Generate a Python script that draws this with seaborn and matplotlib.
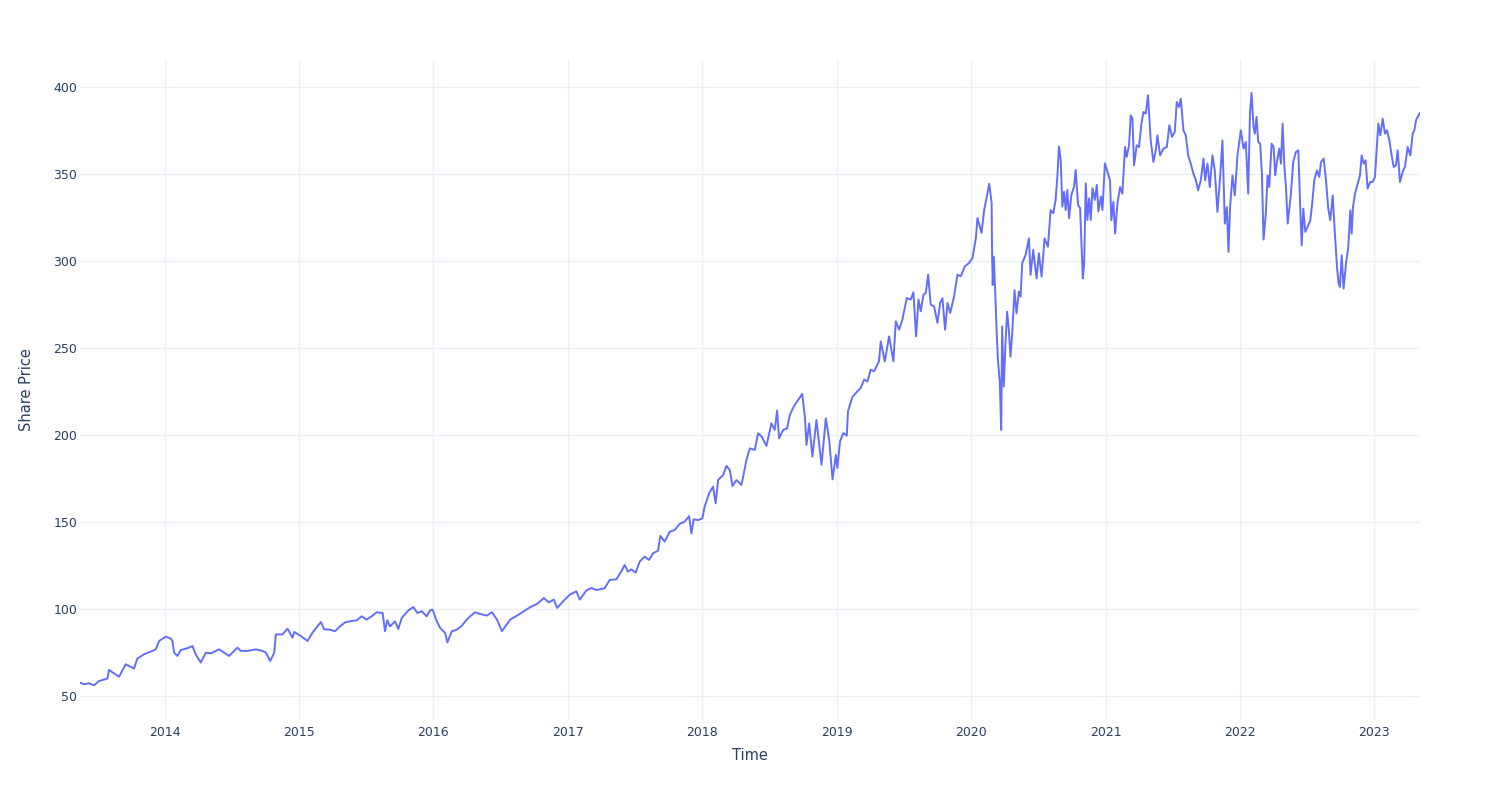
import numpy as np
import pandas as pd
import matplotlib
matplotlib.use("Agg")
import matplotlib.pyplot as plt
import seaborn as sns

# ---- data (decimal year, share price) ----
yr_2013_2015 = [2013.369, 2013.399, 2013.436, 2013.473, 2013.511, 2013.573, 2013.585, 2013.622,
                2013.660, 2013.709, 2013.759, 2013.771, 2013.796, 2013.846, 2013.908, 2013.933,
                2013.958, 2014.007, 2014.045, 2014.057, 2014.070, 2014.094, 2014.119, 2014.181,
                2014.206, 2014.231, 2014.268, 2014.306, 2014.343, 2014.405, 2014.442, 2014.479,
                2014.541, 2014.566, 2014.616, 2014.678, 2014.728, 2014.753, 2014.785, 2014.815,
                2014.827, 2014.877, 2014.914, 2014.951, 2014.964, 2015.013, 2015.063, 2015.100,
                2015.162, 2015.187, 2015.230]
px_2013_2015 = [57.7, 56.7, 57.3, 56.1, 58.6, 60.0, 65.0, 63.0,
                61.1, 68.2, 66.3, 65.7, 71.5, 74.0, 75.9, 76.8,
                81.6, 84.1, 83.0, 81.6, 74.9, 73.0, 76.4, 77.8,
                78.7, 73.9, 69.2, 74.9, 74.5, 76.8, 74.9, 73.0,
                77.8, 75.9, 75.9, 76.8, 75.9, 74.9, 70.1, 74.9,
                85.4, 85.4, 88.7, 83.5, 86.8, 84.5, 81.6, 86.4,
                92.5, 88.3, 88.1]

yr_2015_2017 = [2015.267, 2015.305, 2015.342, 2015.379, 2015.429, 2015.466, 2015.503, 2015.540,
                2015.578, 2015.622, 2015.640, 2015.657, 2015.677, 2015.714, 2015.739, 2015.764,
                2015.814, 2015.851, 2015.881, 2015.913, 2015.950, 2015.975, 2015.995, 2016.020,
                2016.050, 2016.087, 2016.104, 2016.137, 2016.174, 2016.211, 2016.248, 2016.273,
                2016.310, 2016.348, 2016.397, 2016.435, 2016.472, 2016.509, 2016.534, 2016.571,
                2016.621, 2016.671, 2016.720, 2016.770, 2016.820, 2016.857, 2016.894, 2016.919,
                2016.963, 2017.012, 2017.062, 2017.087, 2017.137, 2017.174]
px_2015_2017 = [87.2, 90.0, 92.3, 92.9, 93.5, 95.8, 93.9, 95.8,
                98.1, 97.7, 87.2, 93.5, 90.0, 92.9, 88.5, 94.8,
                99.2, 101.1, 97.7, 98.7, 95.8, 99.2, 99.6, 93.9,
                89.1, 86.2, 80.8, 87.2, 88.1, 90.4, 93.9, 95.8,
                98.1, 97.1, 96.2, 98.1, 93.9, 87.2, 90.0, 93.9,
                96.2, 98.7, 101.1, 102.9, 106.3, 103.8, 105.4, 100.6,
                104.4, 108.2, 110.2, 105.4, 110.7, 112.1]

yr_2017_2019 = [2017.210, 2017.272, 2017.310, 2017.359, 2017.396, 2017.421, 2017.446, 2017.471,
                2017.503, 2017.533, 2017.570, 2017.603, 2017.632, 2017.670, 2017.687, 2017.719,
                2017.757, 2017.794, 2017.831, 2017.868, 2017.901, 2017.918, 2017.935, 2017.968,
                2018.000, 2018.017, 2018.050, 2018.079, 2018.099, 2018.117, 2018.154, 2018.179,
                2018.204, 2018.224, 2018.253, 2018.291, 2018.308, 2018.328, 2018.353, 2018.390,
                2018.415, 2018.442, 2018.477, 2018.514, 2018.539, 2018.556, 2018.571, 2018.601,
                2018.631, 2018.651, 2018.680, 2018.713, 2018.743, 2018.763, 2018.775, 2018.795,
                2018.819, 2018.849, 2018.887, 2018.919, 2018.944, 2018.969, 2018.994]
px_2017_2019 = [110.9, 111.9, 116.7, 117.0, 121.5, 125.3, 121.5, 122.8,
                120.9, 127.2, 130.1, 128.2, 132.0, 133.5, 142.0, 138.7,
                144.4, 145.4, 148.9, 150.2, 153.4, 143.5, 151.5, 151.1,
                152.1, 158.8, 166.5, 170.3, 160.7, 174.1, 177.0, 182.2,
                179.9, 170.7, 174.1, 171.3, 178.0, 185.6, 192.3, 191.4,
                201.0, 199.0, 193.7, 206.7, 202.9, 214.0, 198.1, 202.9,
                203.8, 211.5, 216.3, 220.1, 223.6, 210.5, 194.3, 206.7,
                187.5, 208.6, 182.8, 209.6, 197.1, 174.5, 188.5]

yr_2019_2020 = [2019.005, 2019.025, 2019.050, 2019.075, 2019.084, 2019.117, 2019.154, 2019.179,
                2019.204, 2019.229, 2019.253, 2019.278, 2019.315, 2019.328, 2019.358, 2019.390,
                2019.422, 2019.440, 2019.465, 2019.489, 2019.522, 2019.551, 2019.571, 2019.591,
                2019.609, 2019.626, 2019.646, 2019.663, 2019.681, 2019.700, 2019.725, 2019.750,
                2019.770, 2019.787, 2019.807, 2019.825, 2019.845, 2019.874, 2019.899, 2019.924,
                2019.954, 2019.986, 2020.011, 2020.036, 2020.048, 2020.078, 2020.098, 2020.118,
                2020.135, 2020.153]
px_2019_2020 = [181.0, 196.4, 201.1, 199.6, 213.6, 221.8, 225.1, 227.0,
                231.8, 230.8, 237.5, 236.6, 242.3, 253.8, 242.3, 256.7,
                242.3, 265.3, 260.5, 266.3, 278.7, 277.8, 282.0, 256.7,
                277.8, 271.1, 280.7, 281.6, 292.1, 274.9, 273.9, 264.4,
                275.9, 278.7, 260.5, 275.9, 270.1, 279.7, 292.1, 291.2,
                296.9, 298.9, 301.7, 313.2, 324.7, 316.1, 329.5, 337.2,
                344.4, 333.3]

yr_2020_2021 = [2020.156, 2020.161, 2020.169, 2020.181, 2020.189, 2020.199, 2020.214, 2020.224,
                2020.231, 2020.243, 2020.256, 2020.268, 2020.281, 2020.293, 2020.306, 2020.323,
                2020.338, 2020.355, 2020.368, 2020.380, 2020.405, 2020.430, 2020.442, 2020.462,
                2020.487, 2020.504, 2020.524, 2020.546, 2020.571, 2020.591, 2020.611, 2020.628,
                2020.641, 2020.653, 2020.666, 2020.678, 2020.691, 2020.703, 2020.715, 2020.728,
                2020.745, 2020.765, 2020.777, 2020.795, 2020.810, 2020.820, 2020.830, 2020.840,
                2020.852, 2020.864, 2020.877, 2020.889, 2020.902, 2020.919, 2020.934, 2020.946,
                2020.964, 2020.976, 2020.994, 2021.013]
px_2020_2021 = [306.3, 286.2, 302.5, 279.5, 262.3, 244.1, 229.7, 202.9,
                262.3, 227.8, 252.7, 270.9, 260.3, 245.0, 258.4, 283.3,
                269.9, 282.4, 279.5, 298.7, 303.4, 313.0, 292.0, 306.3,
                290.0, 304.4, 291.0, 313.0, 308.2, 329.3, 327.4, 335.1,
                348.5, 365.7, 358.0, 331.2, 339.8, 329.3, 340.8, 324.5,
                337.9, 342.7, 352.3, 332.2, 330.3, 310.2, 290.0, 298.7,
                344.6, 323.6, 336.0, 323.6, 341.8, 335.1, 343.7, 328.4,
                337.0, 329.3, 356.1, 351.3]

yr_2021_2022 = [2021.032, 2021.042, 2021.057, 2021.070, 2021.087, 2021.107, 2021.124, 2021.144,
                2021.156, 2021.174, 2021.186, 2021.199, 2021.211, 2021.231, 2021.248, 2021.266,
                2021.281, 2021.298, 2021.315, 2021.335, 2021.355, 2021.373, 2021.385, 2021.405,
                2021.430, 2021.455, 2021.474, 2021.494, 2021.514, 2021.529, 2021.546, 2021.559,
                2021.579, 2021.596, 2021.614, 2021.633, 2021.653, 2021.671, 2021.688, 2021.708,
                2021.728, 2021.740, 2021.758, 2021.775, 2021.795, 2021.812, 2021.832, 2021.852,
                2021.869, 2021.887, 2021.902, 2021.914, 2021.926, 2021.944, 2021.961, 2021.981]
px_2021_2022 = [346.4, 323.4, 333.9, 315.7, 332.9, 342.5, 338.7, 365.5,
                359.8, 366.5, 383.7, 381.8, 355.0, 366.5, 365.5, 378.9,
                385.6, 384.7, 395.2, 369.3, 356.9, 363.6, 372.2, 360.7,
                364.6, 365.5, 378.0, 371.3, 374.1, 391.4, 388.5, 393.3,
                375.1, 372.2, 360.7, 356.0, 350.2, 346.4, 340.6, 346.4,
                358.8, 346.4, 356.0, 342.5, 360.7, 352.1, 328.2, 348.3,
                369.3, 321.5, 331.0, 305.2, 331.0, 349.2, 337.7, 360.7]

yr_2022_2023 = [2022.006, 2022.026, 2022.043, 2022.061, 2022.074, 2022.086, 2022.101, 2022.111,
                2022.123, 2022.136, 2022.150, 2022.163, 2022.175, 2022.193, 2022.205, 2022.218,
                2022.235, 2022.250, 2022.262, 2022.275, 2022.292, 2022.305, 2022.317, 2022.330,
                2022.342, 2022.355, 2022.367, 2022.379, 2022.396, 2022.416, 2022.434, 2022.449,
                2022.459, 2022.471, 2022.486, 2022.503, 2022.523, 2022.536, 2022.553, 2022.573,
                2022.590, 2022.603, 2022.623, 2022.640, 2022.657, 2022.672, 2022.690, 2022.707,
                2022.722, 2022.734, 2022.744, 2022.757, 2022.771, 2022.789, 2022.806, 2022.821,
                2022.831, 2022.841, 2022.856, 2022.876, 2022.893, 2022.906, 2022.921, 2022.935,
                2022.950, 2022.970, 2022.988, 2023.005, 2023.020, 2023.030, 2023.045, 2023.062,
                2023.079, 2023.094, 2023.112, 2023.129, 2023.144, 2023.161, 2023.174, 2023.191,
                2023.211, 2023.229, 2023.248, 2023.268, 2023.286, 2023.298, 2023.310, 2023.323,
                2023.340]
px_2022_2023 = [375.1, 364.6, 368.4, 338.7, 384.7, 396.6, 377.0, 373.2,
                382.8, 368.4, 367.4, 350.2, 312.3, 328.2, 349.2, 342.5,
                367.4, 365.5, 349.2, 356.9, 364.6, 355.9, 378.9, 355.0,
                342.5, 321.5, 330.1, 338.7, 356.9, 362.6, 363.6, 329.1,
                309.0, 330.1, 316.7, 319.5, 323.4, 332.0, 346.4, 352.1,
                348.3, 356.9, 358.8, 346.4, 330.1, 323.4, 337.7, 314.8,
                296.6, 287.0, 285.1, 303.3, 284.1, 298.5, 308.0, 329.1,
                315.7, 331.0, 338.7, 344.4, 349.2, 360.7, 355.9, 357.9,
                341.6, 345.4, 345.4, 348.3, 367.4, 378.9, 372.2, 381.8,
                373.2, 375.1, 369.3, 360.7, 354.0, 355.0, 363.6, 345.4,
                351.1, 354.4, 365.5, 360.7, 373.2, 375.1, 380.8, 382.8,
                385.1]

tick_years = [2014, 2015, 2016, 2017, 2018, 2019, 2020, 2021, 2022, 2023]
tick_labels = ["2014", "2015", "2016", "2017", "2018", "2019", "2020", "2021", "2022", "2023"]
y_ticks = [50, 100, 150, 200, 250, 300, 350, 400]


def dec_to_date(y):
    year = int(np.floor(y))
    start = pd.Timestamp(year, 1, 1)
    end = pd.Timestamp(year + 1, 1, 1)
    return start + (end - start) * (y - year)


years = (yr_2013_2015 + yr_2015_2017 + yr_2017_2019 + yr_2019_2020 +
         yr_2020_2021 + yr_2021_2022 + yr_2022_2023)
prices = (px_2013_2015 + px_2015_2017 + px_2017_2019 + px_2019_2020 +
          px_2020_2021 + px_2021_2022 + px_2022_2023)
df = pd.DataFrame({"Time": [dec_to_date(y) for y in years], "Share Price": prices})

sns.set_theme(style="white")
plt.rcParams["font.family"] = ["DejaVu Sans"]

TEXT = "#2a3f5f"
GRID = "#EBF0F8"
LINE = "#636EFA"

fig = plt.figure(figsize=(15, 8), dpi=100)
fig.patch.set_facecolor("white")
ax = fig.add_axes([80 / 1500, 80 / 800, 1340 / 1500, 660 / 800])
ax.set_facecolor("white")

sns.lineplot(data=df, x="Time", y="Share Price", color=LINE, linewidth=1.4, ax=ax)

ax.set_xlim(df["Time"].min(), df["Time"].max())
ax.set_ylim(36.2, 415.5)
ax.set_xticks([pd.Timestamp(y, 1, 1) for y in tick_years])
ax.set_xticklabels(tick_labels)
ax.set_yticks(y_ticks)
ax.set_yticklabels([str(v) for v in y_ticks])

ax.grid(True, color=GRID, linewidth=1)
ax.set_axisbelow(True)
for s in ax.spines.values():
    s.set_visible(False)
ax.tick_params(axis="both", length=0, colors=TEXT, labelsize=9)
ax.tick_params(axis="x", pad=4)
ax.tick_params(axis="y", pad=2)

ax.set_xlabel("Time", fontsize=10.5, color=TEXT)
ax.set_ylabel("Share Price", fontsize=10.5, color=TEXT)
ax.xaxis.set_label_coords(0.5, (720 - 756) / 660)
ax.xaxis.label.set_va("center")
ax.yaxis.set_label_coords((27 - 80) / 1340, (720 - 390) / 660)
ax.yaxis.label.set_va("center")

fig.savefig("out.png", dpi=100, facecolor="white")
